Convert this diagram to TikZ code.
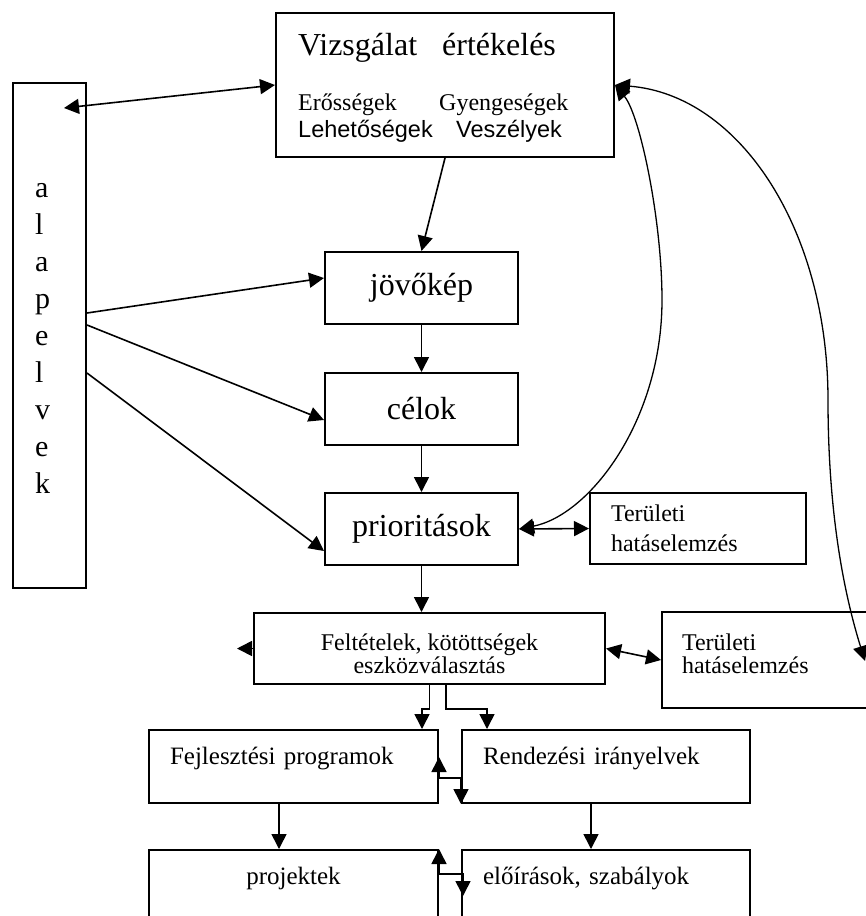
\documentclass[tikz,border=0pt]{standalone}
\usepackage{fontspec}
\setmainfont{Liberation Serif}
\newfontfamily\arialfont{Liberation Sans}
\usetikzlibrary{arrows.meta}

\begin{document}
\begin{tikzpicture}[x=1pt,y=-1pt]
\tikzstyle{box}=[draw, line width=2pt, inner sep=0pt]
\tikzstyle{topbox}=[box, minimum width=289pt, minimum height=73pt, font=\fontsize{25}{30}\selectfont, text height=18pt, text depth=23pt]
\tikzstyle{link}=[line width=1.6pt, -{Triangle[length=15pt,width=15pt]}]
\tikzstyle{both}=[line width=1.6pt, {Triangle[length=15pt,width=15pt]}-{Triangle[length=15pt,width=15pt]}]
\tikzstyle{swoop}=[line width=1.3pt, {Triangle[length=15pt,width=15pt]}-{Triangle[length=15pt,width=15pt]}]
\useasboundingbox (0,0) rectangle (866,916);
\clip (0,0) rectangle (866,916);

\node[box, minimum width=338pt, minimum height=144pt] (V) at (445,85) {};
\node[anchor=base west, inner sep=0pt, font=\fontsize{32}{32}\selectfont] (V1) at (298,55) {\makebox[144pt][l]{Vizsgálat}értékelés};
\node[anchor=base west, inner sep=0pt, font=\fontsize{24}{24}\selectfont] (V2) at (298,110) {\makebox[141pt][l]{Erősségek}Gyengeségek};
\node[anchor=base west, inner sep=0pt, font=\arialfont\fontsize{23.5}{24}\selectfont] (V3) at (298,137) {\makebox[158pt][l]{Lehetőségek}Veszélyek};

\node[box, minimum width=73pt, minimum height=505pt, inner xsep=22pt, text width=29pt, align=left, text depth=290pt, font=\fontsize{30}{37}\selectfont] (A) at (49.5,335.5) {a\\l\\a\\p\\e\\l\\v\\e\\k};

\node[box, minimum width=193pt, minimum height=72pt, font=\fontsize{32}{32}\selectfont] (J) at (421.5,288) {jövőkép};
\node[box, minimum width=193pt, minimum height=72pt, font=\fontsize{32}{32}\selectfont] (C) at (421.5,409) {célok};
\node[box, minimum width=193pt, minimum height=72pt, font=\fontsize{32}{32}\selectfont] (P) at (421.5,529) {prioritások};
\node[box, minimum width=216pt, minimum height=71pt, inner xsep=21pt, text width=174pt, align=left, font=\fontsize{24}{30}\selectfont] (T1) at (698,528.5) {Területi\\hatáselemzés};

\node[box, minimum width=351pt, minimum height=71pt, align=center, text height=50pt, font=\fontsize{24}{23}\selectfont] (F) at (429.5,648.5) {Feltételek, kötöttségek\\eszközválasztás};
\node[box, minimum width=218pt, minimum height=96pt, inner xsep=20pt, text width=178pt, align=left, text depth=35pt, font=\fontsize{24}{23}\selectfont] (T2) at (771,660) {Területi\\hatáselemzés};
\coordinate (t2end) at (865,661);

\node[topbox, inner xsep=21pt, text width=247pt, align=left] (FP) at (293.5,766.5) {Fejlesztési programok};
\node[topbox, minimum width=288pt, inner xsep=21pt, text width=246pt, align=left] (R) at (606,766.5) {Rendezési irányelvek};
\node[topbox] (PR) at (293.5,886.5) {projektek};
\node[topbox, minimum width=288pt, inner xsep=21pt, text width=246pt, align=left] (E) at (606,886.5) {előírások, szabályok};

% alapelvek
\coordinate (a1) at (64,108);
\draw[both] (a1) -- (V.west);
\draw[link] ([yshift=22.5pt]A.east) -- ([yshift=10pt]J.west);
\draw[link] ([yshift=10.5pt]A.east) -- ([yshift=-11pt]C.west);
\draw[link] ([yshift=-37.5pt]A.east) -- ([yshift=-22pt]P.west);

% main column
\draw[link] (V.south) -- (J.north);
\draw[link] (J) -- (C);
\draw[link] (C) -- (P);
\draw[link] (P.south) -- (P.south |- F.north);
\draw[both] (P.east) -- (T1.west);
\draw[both] (F.east) -- (T2.west);
\draw[link] (F.west) -- ++(-16,0);

% feedback curves
\draw[swoop] (V.east) .. controls (640,115) and (662,220) .. (662,300)
  .. controls (662,420) and (590,515) .. (P.east);
\draw[swoop] (V.east) .. controls (740,95) and (828,230) .. (828,400)
  .. controls (828,520) and (846,600) .. (t2end);

% programs
\draw[link] (F.south) -- ++(0,24) -| ([xshift=128.5pt]FP.north);
\draw[link] ([xshift=16.5pt]F.south) -- ++(0,24) -| ([xshift=-119pt]R.north);
\draw[both] ([yshift=9.5pt]FP.east) -- ([yshift=-11.5pt]FP.east) -- ([yshift=-11.5pt]R.west) -- (R.south west);
\draw[link] ([xshift=-14.5pt]FP.south) -- ([xshift=-14.5pt]PR.north);
\draw[link] ([xshift=-15pt]R.south) -- ([xshift=-15pt]E.north);
\draw[both] (PR.north east) -- ++(0,25) -- ++(24,0) -- ++(0,22);
\end{tikzpicture}
\end{document}
